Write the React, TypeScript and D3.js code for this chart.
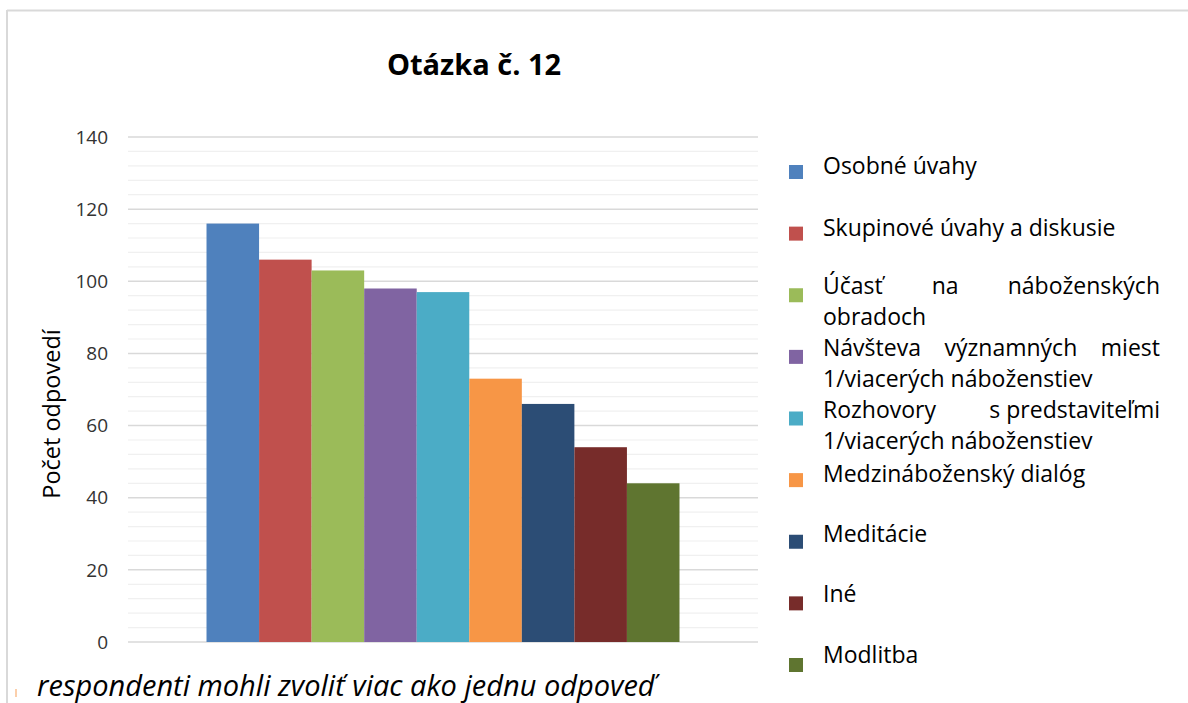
import React from "react";
import * as d3 from "d3";

const TITLE = "Otázka č. 12";
const Y_LABEL = "Počet odpovedí";
const FOOTNOTE = "respondenti mohli zvoliť viac ako jednu odpoveď";
const CATEGORY = ["Otázka č. 12"];
const SERIES = [
  "Osobné úvahy",
  "Skupinové úvahy a diskusie",
  "Účasť na náboženských obradoch",
  "Návšteva významných miest 1/viacerých náboženstiev",
  "Rozhovory s\u00A0predstaviteľmi 1/viacerých náboženstiev",
  "Medzináboženský dialóg",
  "Meditácie",
  "Iné",
  "Modlitba",
];
const VALUES = [116, 106, 103, 98, 97, 73, 66, 54, 44];
const COLORS = [
  "#4F81BD",
  "#C0504D",
  "#9BBB59",
  "#8064A2",
  "#4BACC6",
  "#F79646",
  "#2C4D75",
  "#772C2A",
  "#5F7530",
];
const Y_TICKS = [0, 20, 40, 60, 80, 100, 120, 140];

const W = 1188;
const H = 703;
const FAMILY = "Open Sans";
const FONT = "'Open Sans', 'Noto Sans', sans-serif";
const LEG_FONT_SIZE = 23;

let ctx: CanvasRenderingContext2D | null = null;
function measure(text: string, size: number) {
  if (!ctx) ctx = document.createElement("canvas").getContext("2d");
  if (!ctx) return text.length * size * 0.55;
  ctx.font = `${size}px '${FAMILY}'`;
  return ctx.measureText(text).width;
}

function wrap(text: string, maxW: number, size: number) {
  const words = text.split(" ");
  const lines: string[][] = [];
  let cur: string[] = [];
  for (const w of words) {
    const test = [...cur, w].join(" ");
    if (cur.length && measure(test, size) > maxW) {
      lines.push(cur);
      cur = [w];
    } else cur.push(w);
  }
  if (cur.length) lines.push(cur);
  return lines;
}

export default function App() {
  const plotLeft = 128;
  const plotRight = 758;
  const y = d3.scaleLinear().domain([0, 140]).range([642, 137]);
  const x0 = d3
    .scaleBand<string>()
    .domain(CATEGORY)
    .range([plotLeft, plotRight])
    .paddingOuter(0.166)
    .paddingInner(0);
  const x1 = d3
    .scaleBand<string>()
    .domain(SERIES)
    .range([0, x0.bandwidth()])
    .padding(0);
  const minor = d3.range(0, 141, 4);

  const legX = 823;
  const legW = 337;
  const legY = d3.scalePoint<string>().domain(SERIES).range([172, 665]);

  return (
    <svg
      width={W}
      height={H}
      style={{ position: "absolute", left: 0, top: 0, background: "#fff" }}
      fontFamily={FONT}
    >
      <rect x={0} y={0} width={W} height={H} fill="#fff" />
      {/* frame */}
      <line x1={7} x2={W} y1={10.5} y2={10.5} stroke="#d9d9d9" strokeWidth={2} />
      <line x1={7} x2={7} y1={10} y2={H} stroke="#d9d9d9" strokeWidth={2} />

      <text x={474} y={75} textAnchor="middle" fontSize={29} fontWeight="bold" fill="#000">
        {TITLE}
      </text>

      {/* gridlines */}
      {minor.map((v) => (
        <line
          key={"m" + v}
          x1={plotLeft}
          x2={plotRight}
          y1={y(v)}
          y2={y(v)}
          stroke={v % 20 === 0 ? "#d9d9d9" : "#f0f0f0"}
          strokeWidth={v % 20 === 0 ? 1.5 : 1.2}
        />
      ))}

      {Y_TICKS.map((v) => (
        <text
          key={"t" + v}
          x={108}
          y={y(v)}
          dy="0.35em"
          textAnchor="end"
          fontSize={19}
          fill="#333"
        >
          {v}
        </text>
      ))}

      <text
        transform={`translate(52, ${414}) rotate(-90)`}
        textAnchor="middle"
        dy="0.35em"
        fontSize={23.5}
        fill="#000"
      >
        {Y_LABEL}
      </text>

      {/* bars */}
      {SERIES.map((s, i) => (
        <rect
          key={s}
          x={(x0(CATEGORY[0]) as number) + (x1(s) as number)}
          y={y(VALUES[i])}
          width={x1.bandwidth()}
          height={y(0) - y(VALUES[i])}
          fill={COLORS[i]}
        />
      ))}

      {/* legend */}
      {SERIES.map((s, i) => {
        const cy = legY(s) as number;
        const lines = wrap(s, legW, LEG_FONT_SIZE);
        const multi = lines.length > 1;
        const lineH = 31;
        const firstY = multi ? cy - 9 : cy - 6 - Math.max(0, i - 5) * 1.5;
        return (
          <g key={"l" + s}>
            <rect x={789} y={cy - 7} width={14} height={14} fill={COLORS[i]} />
            {lines.map((words, li) => {
              const ly = firstY + li * lineH;
              const justify = multi && li < lines.length - 1 && words.length > 1;
              if (!justify) {
                return (
                  <text key={li} x={legX} y={ly} dy="0.35em" fontSize={LEG_FONT_SIZE} fill="#000">
                    {words.join(" ")}
                  </text>
                );
              }
              const widths = words.map((w) => measure(w, LEG_FONT_SIZE));
              const total = widths.reduce((a, b) => a + b, 0);
              const gap = (legW - total) / (words.length - 1);
              let cx = legX;
              return (
                <text key={li} y={ly} dy="0.35em" fontSize={LEG_FONT_SIZE} fill="#000">
                  {words.map((w, wi) => {
                    const px = cx;
                    cx += widths[wi] + gap;
                    return (
                      <tspan key={wi} x={px}>
                        {w}
                      </tspan>
                    );
                  })}
                </text>
              );
            })}
          </g>
        );
      })}

      <line x1={16} x2={16} y1={689} y2={697} stroke="#F79646" strokeWidth={1.5} opacity={0.6} />
      <text x={37} y={696} fontSize={29} fontStyle="italic" fill="#000">
        {FOOTNOTE}
      </text>
    </svg>
  );
}
